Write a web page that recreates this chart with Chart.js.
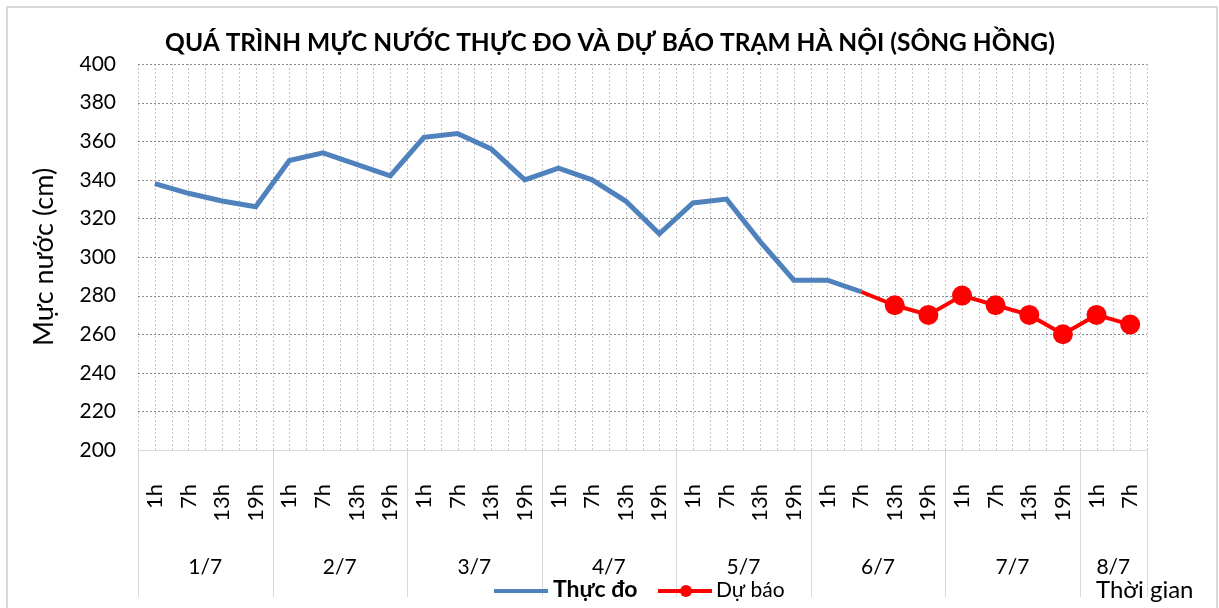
<!DOCTYPE html>
<html>
<head>
<meta charset="utf-8">
<script src="https://cdn.jsdelivr.net/npm/chart.js@4.4.1/dist/chart.umd.min.js"></script>
<style>
  body { margin: 0; background: #fff; }
</style>
</head>
<body>
<canvas id="myChart" width="1219" height="608"></canvas>
<script>
// chart data
const dayLabels = ['1/7', '2/7', '3/7', '4/7', '5/7', '6/7', '7/7', '8/7'];
const hoursPerDay = [4, 4, 4, 4, 4, 4, 4, 2];
const hourLabels = [
    '1h', '7h', '13h', '19h', '1h', '7h', '13h', '19h',
    '1h', '7h', '13h', '19h', '1h', '7h', '13h', '19h',
    '1h', '7h', '13h', '19h', '1h', '7h', '13h', '19h',
    '1h', '7h', '13h', '19h', '1h', '7h'
];
const observed = [
    338, 333, 329, 326, 350, 354, 348, 342,
    362, 364, 356, 340, 346, 340, 329, 312,
    328, 330, 308, 288, 288, 282, null, null,
    null, null, null, null, null, null
];
const forecast = [
    null, null, null, null, null, null, null, null,
    null, null, null, null, null, null, null, null,
    null, null, null, null, null, 282, 275, 270,
    280, 275, 270, 260, 270, 265
];
const yTicks = { min: 200, max: 400, step: 20 };

const FONT = 'Lato, "Noto Sans", sans-serif';

// extra drawing: half-category grid, day groups, title, legend, frame
const decorPlugin = {
    id: 'decor',
    beforeDatasetsDraw(chart) {
        const { ctx, chartArea } = chart;
        const n = hourLabels.length;
        const step = (chartArea.right - chartArea.left) / (n * 2);
        ctx.save();
        ctx.lineWidth = 1;
        ctx.setLineDash([2, 2]);
        // vertical dotted grid, every half category
        ctx.strokeStyle = '#c4c4c4';
        for (let i = 0; i <= n * 2; i++) {
            const x = Math.round(chartArea.left + i * step) + 0.5;
            ctx.beginPath();
            ctx.moveTo(x, chartArea.top);
            ctx.lineTo(x, chartArea.bottom);
            ctx.stroke();
        }
        // horizontal dotted grid
        const y = chart.scales.y;
        ctx.strokeStyle = '#8c8c8c';
        for (let v = yTicks.min + yTicks.step; v <= yTicks.max; v += yTicks.step) {
            const py = Math.round(y.getPixelForValue(v)) + 0.5;
            ctx.beginPath();
            ctx.moveTo(chartArea.left, py);
            ctx.lineTo(chartArea.right, py);
            ctx.stroke();
        }
        ctx.restore();
    },
    afterDraw(chart) {
        const { ctx, chartArea } = chart;
        const n = hourLabels.length;
        const catW = (chartArea.right - chartArea.left) / n;
        ctx.save();

        // day separators and labels
        ctx.strokeStyle = '#d9d9d9';
        ctx.lineWidth = 1;
        let idx = 0;
        const bounds = [0];
        hoursPerDay.forEach(h => { idx += h; bounds.push(idx); });
        bounds.forEach(b => {
            const x = Math.round(chartArea.left + b * catW) + 0.5;
            ctx.beginPath();
            ctx.moveTo(x, chartArea.bottom);
            ctx.lineTo(x, 597);
            ctx.stroke();
        });
        ctx.fillStyle = '#000';
        ctx.font = '21px ' + FONT;
        ctx.textAlign = 'center';
        ctx.textBaseline = 'middle';
        dayLabels.forEach((d, i) => {
            const x = chartArea.left + (bounds[i] + bounds[i + 1]) / 2 * catW;
            ctx.fillText(d, x, 567);
        });

        // axis titles
        ctx.font = '24px ' + FONT;
        ctx.textAlign = 'left';
        ctx.fillText('Thời gian', 1096, 590);
        ctx.save();
        ctx.translate(44, 257);
        ctx.rotate(-Math.PI / 2);
        ctx.textAlign = 'center';
        ctx.font = '27px ' + FONT;
        ctx.fillText('Mực nước (cm)', 0, 0);
        ctx.restore();

        // title
        ctx.font = 'bold 24.5px ' + FONT;
        ctx.textAlign = 'center';
        ctx.fillText('QUÁ TRÌNH MỰC NƯỚC THỰC ĐO VÀ DỰ BÁO TRẠM HÀ NỘI (SÔNG HỒNG)', 610, 43);

        // legend
        ctx.lineWidth = 4;
        ctx.strokeStyle = '#4f81bd';
        ctx.beginPath();
        ctx.moveTo(494, 591);
        ctx.lineTo(548, 591);
        ctx.stroke();
        ctx.textAlign = 'left';
        ctx.font = 'bold 23px ' + FONT;
        ctx.fillText('Thực đo', 553, 590);
        ctx.strokeStyle = '#ff0000';
        ctx.beginPath();
        ctx.moveTo(658, 591);
        ctx.lineTo(712, 591);
        ctx.stroke();
        ctx.fillStyle = '#ff0000';
        ctx.beginPath();
        ctx.arc(686, 591, 6, 0, Math.PI * 2);
        ctx.fill();
        ctx.fillStyle = '#000';
        ctx.font = '21px ' + FONT;
        ctx.fillText('Dự báo', 716, 590);

        // outer frame
        ctx.strokeStyle = '#d9d9d9';
        ctx.lineWidth = 2;
        ctx.strokeRect(7, 7, 1210, 602);
        ctx.restore();
    }
};

const ctx = document.getElementById('myChart').getContext('2d');
new Chart(ctx, {
    type: 'line',
    data: {
        labels: hourLabels,
        datasets: [
            {
                label: 'Thực đo',
                data: observed,
                borderColor: '#4f81bd',
                backgroundColor: '#4f81bd',
                borderWidth: 5,
                pointRadius: 0,
                tension: 0
            },
            {
                label: 'Dự báo',
                data: forecast,
                borderColor: '#ff0000',
                backgroundColor: '#ff0000',
                borderWidth: 4,
                pointRadius: forecast.map((v, i) => (i === 21 ? 0 : 10)),
                pointBorderWidth: 0,
                tension: 0
            }
        ]
    },
    options: {
        responsive: false,
        animation: false,
        devicePixelRatio: 1,
        layout: { padding: { left: 0, top: 64, right: 72, bottom: 0 } },
        plugins: {
            legend: { display: false },
            title: { display: false },
            tooltip: { enabled: false }
        },
        scales: {
            x: {
                offset: true,
                afterFit(scale) { scale.height = 158; },
                grid: { display: false, drawTicks: false, offset: true },
                border: { display: true, color: '#d9d9d9', width: 1 },
                ticks: {
                    autoSkip: false,
                    minRotation: 90,
                    maxRotation: 90,
                    padding: 34,
                    color: '#000',
                    font: { family: FONT, size: 22 }
                }
            },
            y: {
                min: yTicks.min,
                max: yTicks.max,
                afterFit(scale) { scale.width = 138; },
                grid: { display: false, drawTicks: false },
                border: { display: false },
                ticks: {
                    stepSize: yTicks.step,
                    padding: 22,
                    color: '#000',
                    font: { family: FONT, size: 21 }
                }
            }
        }
    },
    plugins: [decorPlugin]
});
</script>
</body>
</html>
